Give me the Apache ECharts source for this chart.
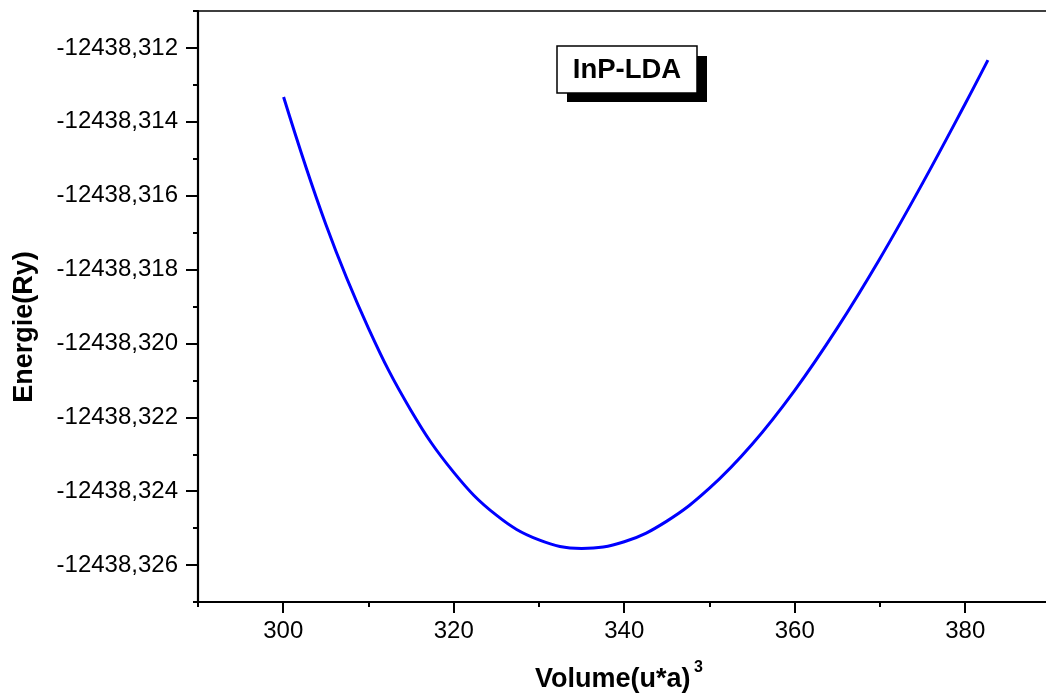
<!DOCTYPE html>
<html>
<head>
<meta charset="utf-8">
<script src="https://cdn.jsdelivr.net/npm/echarts@6/dist/echarts.min.js"></script>
<style>
html,body{margin:0;padding:0;background:#fff;overflow:hidden;width:1046px;height:697px;}
#chart{width:1070px;height:697px;}
</style>
</head>
<body>
<div id="chart"></div>
<script>
// ---- data ----
const volume = [300.04, 305, 310, 315, 320, 325, 330, 335, 340, 345, 350, 355, 360, 365, 370, 375, 380, 382.66];
const energy = [-12438.31333, -12438.31678, -12438.31959, -12438.32182, -12438.32349, -12438.32465,
  -12438.32532, -12438.32555, -12438.32537, -12438.32481, -12438.32392, -12438.32273, -12438.32127,
  -12438.31958, -12438.31770, -12438.31566, -12438.31351, -12438.31233];
const xMajorTicks = [300, 320, 340, 360, 380];
const xMinorTicks = [290, 300, 310, 320, 330, 340, 350, 360, 370, 380, 390];
const yMajorTicks = [-12438.312, -12438.314, -12438.316, -12438.318, -12438.320, -12438.322, -12438.324, -12438.326];
const yMinorTicks = [-12438.311, -12438.312, -12438.313, -12438.314, -12438.315, -12438.316, -12438.317, -12438.318,
  -12438.319, -12438.320, -12438.321, -12438.322, -12438.323, -12438.324, -12438.325, -12438.326, -12438.327];
const xRange = [290, 391];
const yRange = [-12438.327, -12438.311];
const seriesName = 'InP-LDA';
const xTitle = 'Volume(u*a)';
const xTitleSup = '3';
const yTitle = 'Energie(Ry)';

const FONT = "'Liberation Sans', Arial, sans-serif";
const chart = echarts.init(document.getElementById('chart'), null, {renderer: 'canvas'});

const fmtY = v => v.toFixed(3).replace('.', ',');

const option = {
  animation: false,
  backgroundColor: '#fff',
  grid: {
    left: 198, top: 11, width: 861, height: 591,
    show: true, borderColor: '#000', borderWidth: 1.5, backgroundColor: 'transparent',
    containLabel: false
  },
  xAxis: [
    {
      type: 'value', min: xRange[0], max: xRange[1], position: 'bottom',
      axisLine: {show: true, onZero: false, lineStyle: {color: '#000', width: 2.2}},
      axisTick: {show: true, customValues: xMajorTicks, length: 11, lineStyle: {color: '#000', width: 2}},
      axisLabel: {show: true, customValues: xMajorTicks, margin: 17, color: '#000', fontSize: 24, fontFamily: FONT},
      splitLine: {show: false}
    },
    {
      type: 'value', min: xRange[0], max: xRange[1], position: 'bottom',
      axisLine: {show: false},
      axisTick: {show: true, customValues: xMinorTicks, length: 5, lineStyle: {color: '#000', width: 2}},
      axisLabel: {show: false},
      splitLine: {show: false}
    }
  ],
  yAxis: [
    {
      type: 'value', min: yRange[0], max: yRange[1], position: 'left',
      axisLine: {show: true, onZero: false, lineStyle: {color: '#000', width: 2.2}},
      axisTick: {show: true, customValues: yMajorTicks, length: 12, lineStyle: {color: '#000', width: 2}},
      axisLabel: {show: true, customValues: yMajorTicks, margin: 20, color: '#000', fontSize: 24, fontFamily: FONT, formatter: fmtY},
      splitLine: {show: false}
    },
    {
      type: 'value', min: yRange[0], max: yRange[1], position: 'left',
      axisLine: {show: false},
      axisTick: {show: true, customValues: yMinorTicks, length: 5, lineStyle: {color: '#000', width: 2}},
      axisLabel: {show: false},
      splitLine: {show: false}
    }
  ],
  series: [
    {
      name: seriesName, type: 'line', xAxisIndex: 0, yAxisIndex: 0,
      data: volume.map((v, i) => [v, energy[i]]),
      smooth: 0.4, showSymbol: false, symbol: 'none',
      lineStyle: {color: '#0000FF', width: 3}
    }
  ],
  graphic: [
    {type: 'rect', shape: {x: 567, y: 56, width: 140, height: 46}, style: {fill: '#000'}, z: 100},
    {type: 'rect', shape: {x: 557, y: 46, width: 140, height: 47}, style: {fill: '#fff', stroke: '#000', lineWidth: 1.5}, z: 101},
    {type: 'text', x: 627, y: 70, style: {text: seriesName, fill: '#000', font: "bold 27.5px 'Liberation Sans', Arial, sans-serif", align: 'center', verticalAlign: 'middle'}, z: 102},
    {type: 'text', x: 535, y: 680, style: {text: xTitle, fill: '#000', font: "bold 27px 'Liberation Sans', Arial, sans-serif", align: 'left', verticalAlign: 'middle'}, z: 102},
    {type: 'text', x: 694, y: 668, style: {text: xTitleSup, fill: '#000', font: "bold 16px 'Liberation Sans', Arial, sans-serif", align: 'left', verticalAlign: 'middle'}, z: 102},
    {type: 'text', x: 25, y: 327, rotation: Math.PI / 2, style: {text: yTitle, fill: '#000', font: "bold 27px 'Liberation Sans', Arial, sans-serif", align: 'center', verticalAlign: 'middle'}, z: 102}
  ]
};
chart.setOption(option);
</script>
</body>
</html>
